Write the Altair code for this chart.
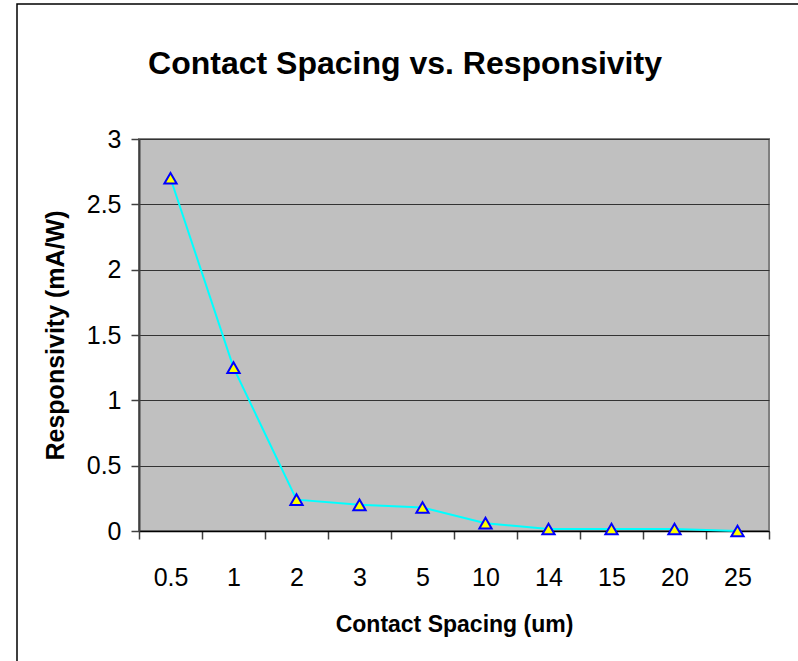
import altair as alt
import pandas as pd

# Contact spacing (um) categories and measured responsivity (mA/W)
spacing = ["0.5", "1", "2", "3", "5", "10", "14", "15", "20", "25"]
responsivity = [2.70, 1.25, 0.24, 0.20, 0.18, 0.06, 0.015, 0.015, 0.015, 0.0]
y_ticks = [0, 0.5, 1, 1.5, 2, 2.5, 3]

df = pd.DataFrame({"spacing": spacing, "responsivity": responsivity})

FONT = "Liberation Sans"
W, H = 630, 392

x_enc = alt.X(
    "spacing:N",
    sort=spacing,
    scale=alt.Scale(type="band", paddingInner=0, paddingOuter=0),
    axis=alt.Axis(
        title="Contact Spacing (um)",
        labelAngle=0,
        tickBand="extent",
        tickSize=8,
        tickColor="#404040",
        tickWidth=1.5,
        domainColor="#000000",
        domainWidth=1.5,
        labelFont=FONT,
        labelFontSize=25,
        labelColor="#000000",
        labelPadding=26,
        titleFont=FONT,
        titleFontSize=23,
        titleFontWeight="bold",
        titleColor="#000000",
        titlePadding=23,
        grid=False,
    ),
)

y_enc = alt.Y(
    "responsivity:Q",
    scale=alt.Scale(domain=[0, 3], nice=False, zero=True),
    axis=alt.Axis(
        title="Responsivity (mA/W)",
        values=y_ticks,
        format=".1~f",
        grid=True,
        gridColor="#333333",
        gridWidth=1,
        tickSize=8,
        tickColor="#404040",
        tickWidth=1.5,
        domainColor="#404040",
        domainWidth=2,
        labelFont=FONT,
        labelFontSize=25,
        labelColor="#000000",
        labelPadding=10,
        titleFont=FONT,
        titleFontSize=25,
        titleFontWeight="bold",
        titleColor="#000000",
        titlePadding=18,
    ),
)

# Outer chart frame
frame = alt.Chart(alt.Data(values=[{"f": 1}])).mark_rect(
    fill="transparent", stroke="#000000", strokeWidth=1.5
).encode(
    x=alt.value(-122), x2=alt.value(700), y=alt.value(-135), y2=alt.value(620)
)

base = alt.Chart(df).encode(x=x_enc, y=y_enc)

line = base.mark_line(color="#00FFFF", strokeWidth=2)
points = base.mark_point(
    shape="triangle-up",
    filled=True,
    fill="#FFFF00",
    stroke="#0000FF",
    strokeWidth=2,
    size=150,
    opacity=1,
)

chart = (
    alt.layer(frame, line, points)
    .properties(
        width=W,
        height=H,
        autosize=alt.AutoSizeParams(type="none"),
        padding={"left": 139, "top": 139, "right": 29, "bottom": 130},
        background="#FFFFFF",
        title=alt.TitleParams(
            "Contact Spacing vs. Responsivity",
            font=FONT,
            fontSize=32,
            fontWeight="bold",
            color="#000000",
            anchor="middle",
            dx=-49,
            offset=-78,
        ),
    )
    .configure_view(fill="#C0C0C0", stroke="#808080", strokeWidth=2)
)

chart.save("out.html", embed_options={"renderer": "svg", "actions": False})
